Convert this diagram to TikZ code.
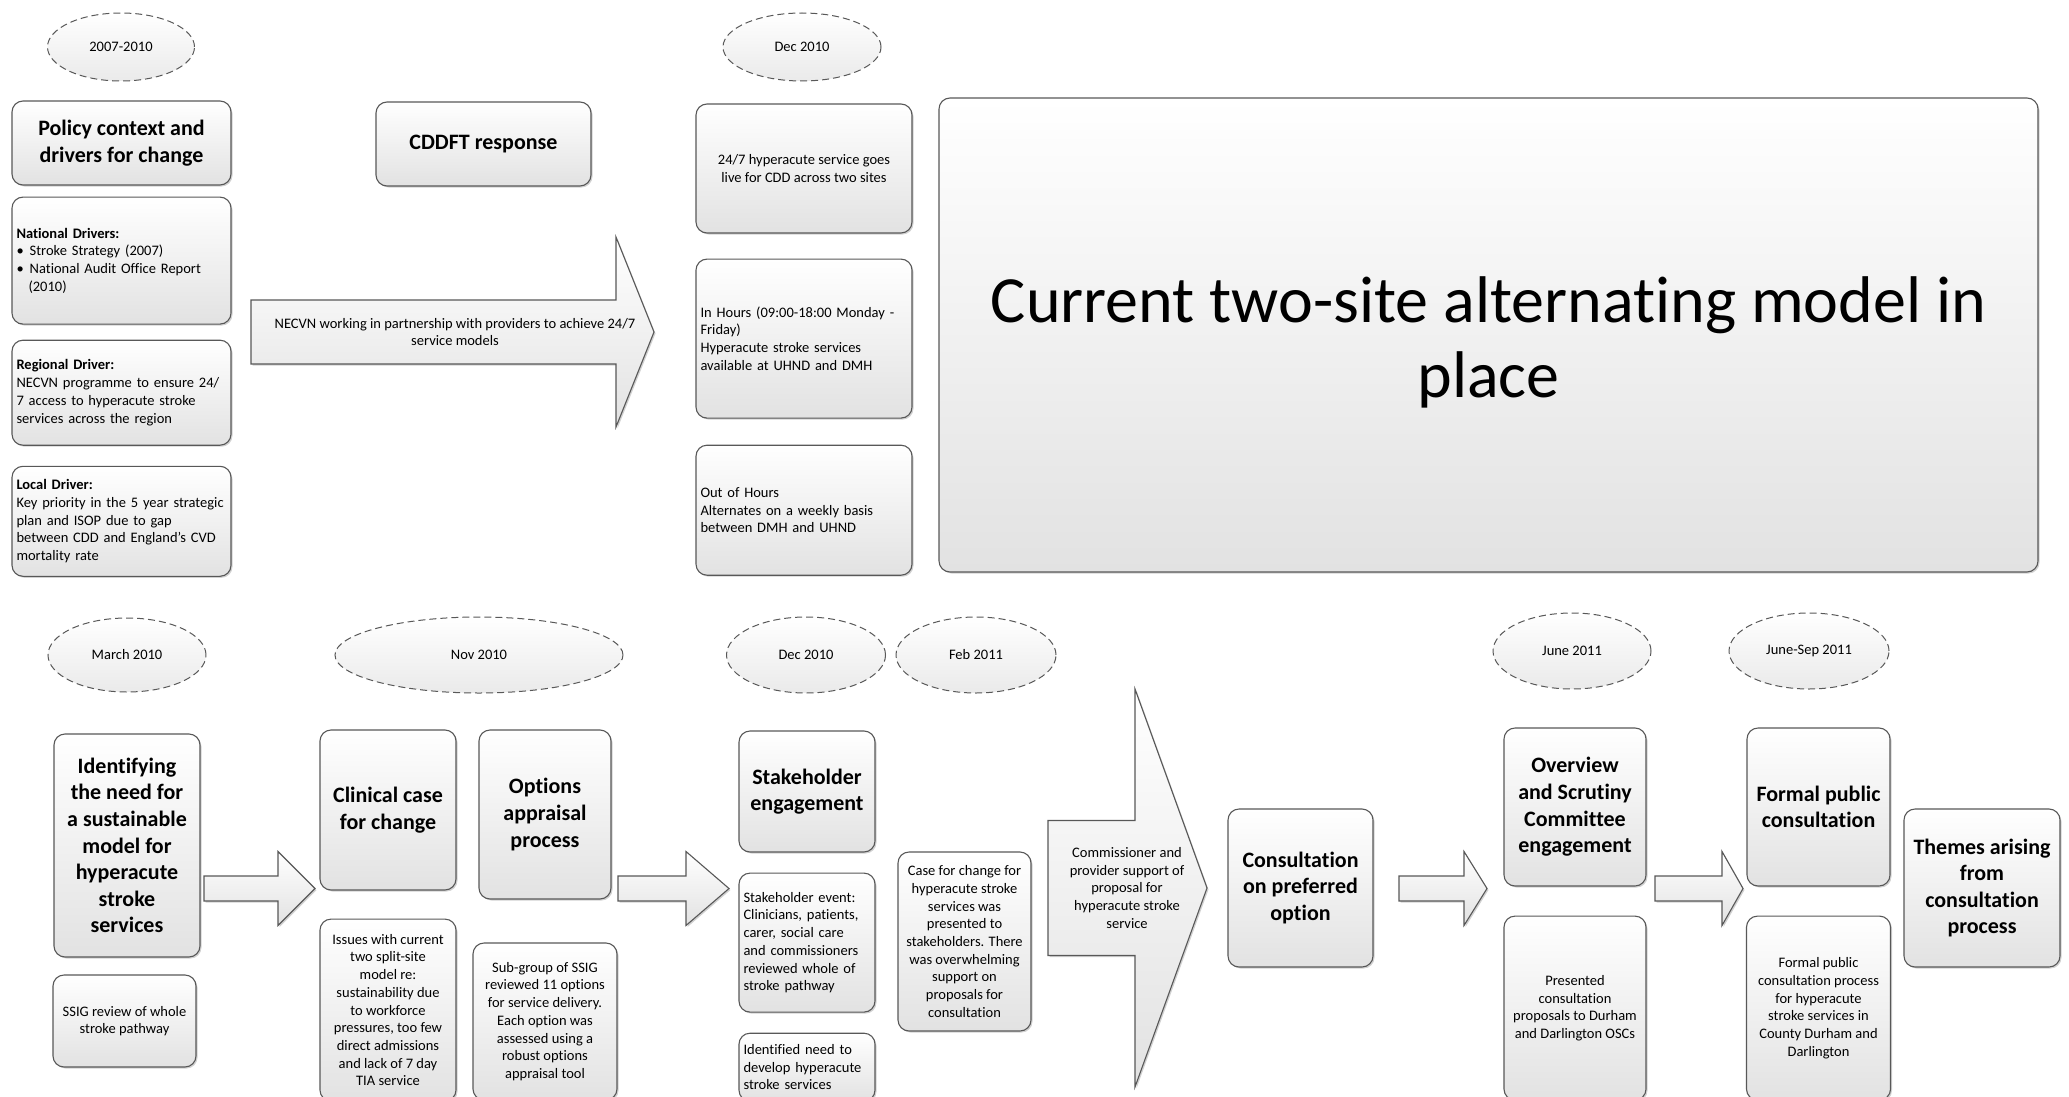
\documentclass[tikz,border=0pt]{standalone}
\usepackage{fontspec}
\setmainfont{Carlito}[Ligatures=NoCommon]
\usetikzlibrary{positioning,shapes.geometric,shadows}

\definecolor{boxline}{RGB}{88,88,88}
\definecolor{boxgray}{RGB}{226,226,226}
\definecolor{bubgray}{RGB}{234,234,234}

\newcommand\smalltxt{\fontsize{14.5}{17.7}\selectfont}
\newcommand\headtxt{\fontsize{22}{26.6}\selectfont\bfseries}
\newcommand\bigtxt{\fontsize{66}{75}\selectfont}

% block arrow: x start, x head, x tip, y centre, half shaft, half head
\newcommand\blockarrow[6]{%
  \draw[barrow] (#1,#4-#5) -- (#2,#4-#5) -- (#2,#4-#6) -- (#3,#4)
    -- (#2,#4+#6) -- (#2,#4+#5) -- (#1,#4+#5) -- cycle;}

\begin{document}
\begin{tikzpicture}[
  x=1pt, y=-1pt,
  shade/.style={top color=white, bottom color=boxgray,
                drop shadow={shadow xshift=1.5pt, shadow yshift=-1.5pt,
                             fill=black, opacity=0.18}},
  box/.style={draw=boxline, line width=1.1pt, rounded corners=11pt,
              shade, align=center, inner sep=4pt, font=\smalltxt},
  head/.style={box, font=\headtxt},
  ltbox/.style={box, align=left, inner xsep=4.5pt},
  datebub/.style={draw=boxline, ellipse, line width=1pt,
                  dash pattern=on 7pt off 4pt, inner sep=0pt,
                  top color=white, bottom color=bubgray, font=\smalltxt},
  barrow/.style={draw=boxline, line width=1.1pt, shade},
]
  \useasboundingbox (0,0) rectangle (2069,1097);

  %% Top row: dates
  \node[datebub, minimum width=147, minimum height=68] (d2007) at (121,47) {2007-2010};
  \node[datebub, minimum width=158, minimum height=68] (ddec) at (802,47) {Dec 2010};

  %% Policy context column
  \node[head, minimum width=219, minimum height=84] (policy) at (121.5,143)
    {Policy context and\\drivers for change};
  \node[ltbox, text width=210, minimum height=127, below=11pt of policy] (natdrv)
    {\textbf{National Drivers:}\\
     \textbullet\hspace{6pt}Stroke Strategy (2007)\\
     \textbullet\hspace{6pt}National Audit Office Report\\
     \hspace*{12pt}(2010)};
  \node[ltbox, text width=210, minimum height=105, below=15pt of natdrv] (regdrv)
    {\textbf{Regional Driver:}\\
     NECVN programme to ensure 24/\\
     7 access to hyperacute stroke\\
     services across the region};
  \node[ltbox, text width=210, minimum height=110, below=20pt of regdrv] (locdrv)
    {\textbf{Local Driver:}\\
     \mbox{Key priority in the 5 year strategic}\\
     plan and ISOP due to gap\\
     between CDD and England's CVD\\
     mortality rate};

  %% CDDFT response
  \node[head, minimum width=215, minimum height=84] (cddft) at (483.5,144) {CDDFT response};
  \blockarrow{251}{616}{654}{332}{32}{95}
  \node[font=\smalltxt, align=center] (necvn) at (455,332)
    {NECVN working in partnership with providers to achieve 24/7\\service models};

  %% Dec 2010 column
  \node[box, minimum width=216, minimum height=129] (live) at (804,168.5)
    {24/7 hyperacute service goes\\live for CDD across two sites};
  \node[ltbox, text width=207, minimum height=159, below=25pt of live] (inhrs)
    {In Hours (09:00-18:00 Monday -\\
     Friday)\\
     Hyperacute stroke services\\
     available at UHND and DMH};
  \node[ltbox, text width=207, minimum height=130, below=26pt of inhrs] (outhrs)
    {Out of Hours\\
     Alternates on a weekly basis\\
     between DMH and UHND};

  \node[box, minimum width=1099, minimum height=474] (current) at (1488.5,335) {};
  \node[font=\bigtxt, align=center] (currtxt) at ([yshift=-7pt]current.center)
    {Current two-site alternating model in\\place};

  %% Bottom row: dates
  \node[datebub, minimum width=158, minimum height=74] (dmar) at (127,655) {March 2010};
  \node[datebub, minimum width=288, minimum height=76] (dnov) at (479,655) {Nov 2010};
  \node[datebub, minimum width=159, minimum height=76] (ddec2) at (806,655) {Dec 2010};
  \node[datebub, minimum width=160, minimum height=76] (dfeb) at (976,655) {Feb 2011};
  \node[datebub, minimum width=158, minimum height=76] (djun) at (1572,651) {June 2011};
  \node[datebub, minimum width=160, minimum height=76] (djunsep) at (1809,651) {June-Sep 2011};

  %% March 2010
  \node[head, minimum width=146, minimum height=223] (ident) at (127,845.5)
    {Identifying\\the need for\\a sustainable\\model for\\hyperacute\\stroke\\services};
  \node[box, minimum width=143, minimum height=92] (ssig) at (124.5,1021)
    {SSIG review of whole\\stroke pathway};
  \blockarrow{204}{278}{315}{888.5}{12.5}{37}

  %% Nov 2010
  \node[head, minimum width=136, minimum height=160] (clin) at (388,810)
    {Clinical case\\for change};
  \node[box, minimum width=136, minimum height=182, below=28pt of clin] (issues)
    {Issues with current\\two split-site\\model re:\\sustainability due\\to workforce\\
     pressures, too few\\direct admissions\\and lack of 7 day\\TIA service};
  \node[head, minimum width=132, minimum height=169] (optns) at (545,814.5)
    {Options\\appraisal\\process};
  \node[box, minimum width=144, minimum height=157] (subgrp) at (545,1021.5)
    {Sub-group of SSIG\\reviewed 11 options\\for service delivery.\\Each option was\\
     assessed using a\\robust options\\appraisal tool};
  \blockarrow{618}{686}{729}{888.5}{12.5}{37}

  %% Dec 2010 / Feb 2011
  \node[head, minimum width=136, minimum height=121] (stake) at (807,791.5)
    {Stakeholder\\engagement};
  \node[ltbox, text width=127, minimum height=139, below=20pt of stake] (event)
    {Stakeholder event:\\Clinicians, patients,\\carer, social care\\and commissioners\\
     reviewed whole of\\stroke pathway};
  \node[ltbox, text width=127, minimum height=68, below=20pt of event] (needdev)
    {Identified need to\\develop hyperacute\\stroke services};
  \node[box, minimum width=133, minimum height=179] (casechg) at (964.5,941.5)
    {Case for change for\\hyperacute stroke\\services was\\presented to\\
     stakeholders. There\\was overwhelming\\support on\\proposals for\\consultation};
  \blockarrow{1048}{1135}{1207}{888}{67.5}{199}
  \node[font=\smalltxt, align=center] (support) at (1127,888)
    {Commissioner and\\provider support of\\proposal for\\hyperacute stroke\\service};
  \node[head, minimum width=145, minimum height=158] (consult) at (1300.5,888)
    {Consultation\\on preferred\\option};
  \blockarrow{1399}{1464}{1487}{888.5}{12.5}{37}

  %% June 2011
  \node[head, minimum width=142, minimum height=158] (osc) at (1575,807)
    {Overview\\and Scrutiny\\Committee\\engagement};
  \node[box, minimum width=142, minimum height=184, below=29pt of osc] (present)
    {Presented\\consultation\\proposals to Durham\\and Darlington OSCs};
  \blockarrow{1655}{1722}{1743}{888.5}{12.5}{37}

  %% June-Sep 2011
  \node[head, minimum width=143, minimum height=158] (formal) at (1818.5,807)
    {Formal public\\consultation};
  \node[box, minimum width=144, minimum height=184, below=29pt of formal] (formproc)
    {Formal public\\consultation process\\for hyperacute\\stroke services in\\
     County Durham and\\Darlington};
  \node[head, minimum width=156, minimum height=158] (themes) at (1982,888)
    {Themes arising\\from\\consultation\\process};
\end{tikzpicture}
\end{document}
